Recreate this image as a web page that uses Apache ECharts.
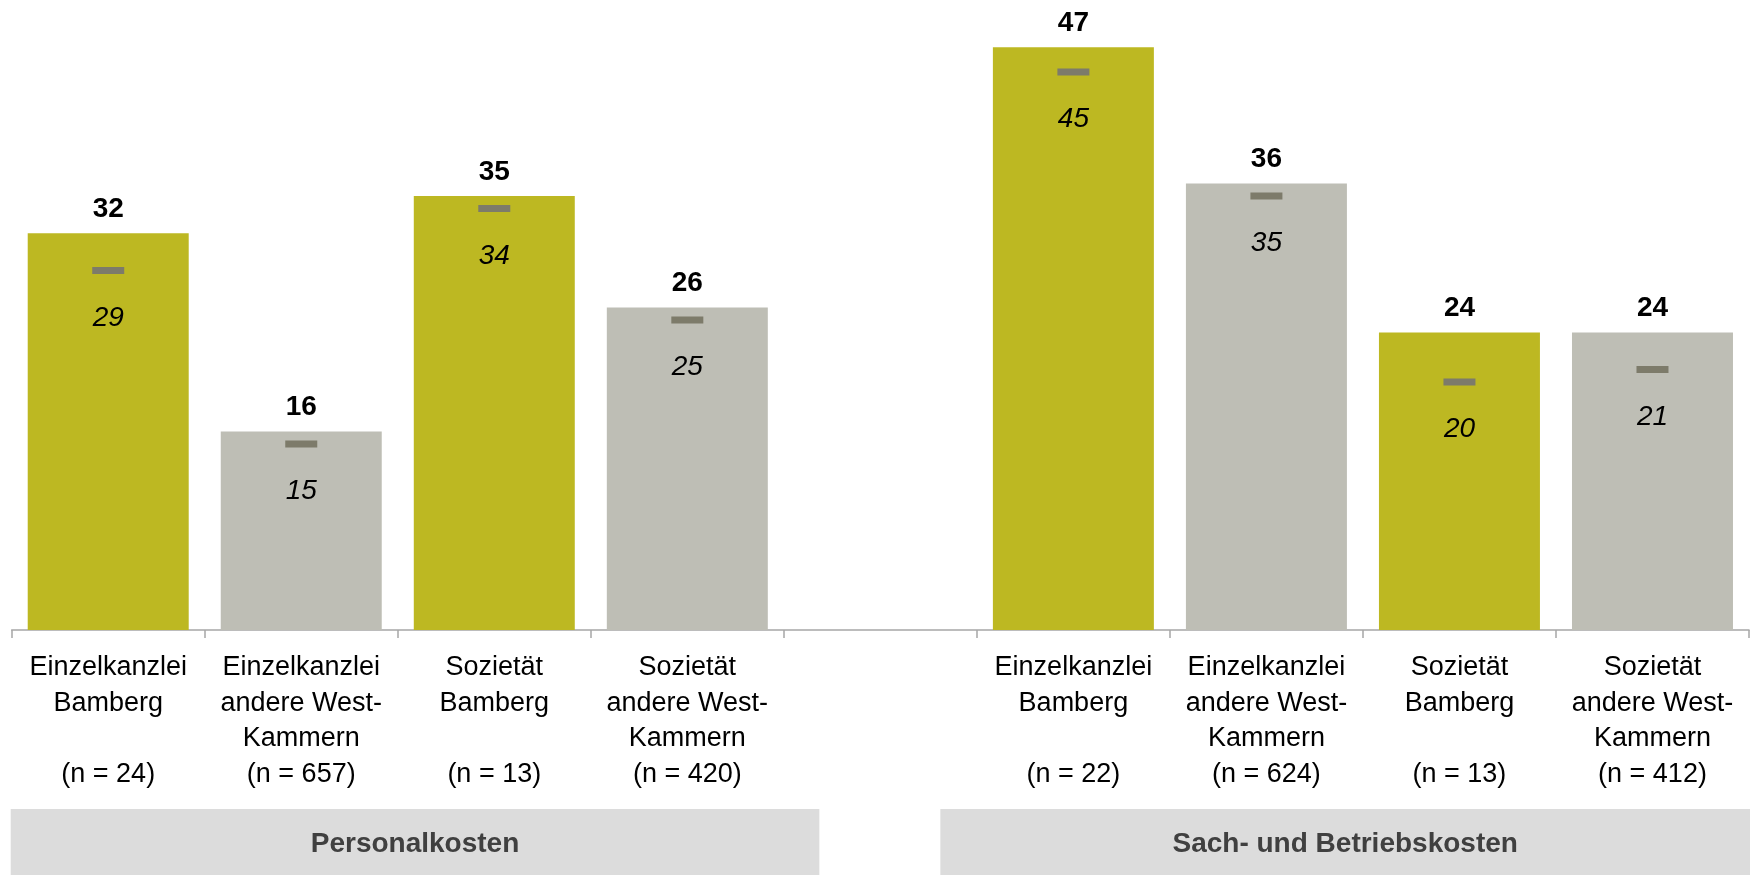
<!DOCTYPE html>
<html>
<head>
<meta charset="utf-8">
<script src="https://cdn.jsdelivr.net/npm/echarts@6/dist/echarts.min.js"></script>
<style>
html,body{margin:0;padding:0;background:#fff;}
#c{width:1754px;height:875px;}
</style>
</head>
<body>
<div id="c"></div>
<script>
const categories = [
  'Einzelkanzlei\nBamberg\n\n(n = 24)',
  'Einzelkanzlei\nandere West-\nKammern\n(n = 657)',
  'Sozietät\nBamberg\n\n(n = 13)',
  'Sozietät\nandere West-\nKammern\n(n = 420)',
  '',
  'Einzelkanzlei\nBamberg\n\n(n = 22)',
  'Einzelkanzlei\nandere West-\nKammern\n(n = 624)',
  'Sozietät\nBamberg\n\n(n = 13)',
  'Sozietät\nandere West-\nKammern\n(n = 412)'
];
const meanValues = [32, 16, 35, 26, '-', 47, 36, 24, 24];
const medianValues = [29, 15, 34, 25, '-', 45, 35, 20, 21];
const isBamberg = [true, false, true, false, false, true, false, true, false];
const groups = ['Personalkosten', 'Sach- und Betriebskosten'];

const OLIVE = '#BDB822';
const GRAY = '#BEBEB5';
const FONT = '"Liberation Sans", Arial, Helvetica, sans-serif';

const chart = echarts.init(document.getElementById('c'));

const barData = meanValues.map((v, i) => ({
  value: v,
  itemStyle: { color: isBamberg[i] ? OLIVE : GRAY }
}));

chart.setOption({
  animation: false,
  backgroundColor: '#ffffff',
  grid: { left: 11.7, right: 5, top: 10, bottom: 245, containLabel: false },
  xAxis: {
    type: 'category',
    data: categories,
    boundaryGap: true,
    axisLine: { show: true, lineStyle: { color: '#A6A6A6', width: 1.5 } },
    axisTick: { show: true, length: 8, lineStyle: { color: '#A6A6A6', width: 1.5 } },
    axisLabel: {
      interval: 0,
      fontFamily: FONT,
      fontSize: 27,
      lineHeight: 35.5,
      color: '#000000',
      margin: 20,
      align: 'center'
    }
  },
  yAxis: {
    type: 'value',
    min: 0,
    max: 50,
    show: false,
    splitLine: { show: false }
  },
  series: [
    {
      type: 'bar',
      data: barData,
      barWidth: '83.4%',
      label: {
        show: true,
        position: 'top',
        distance: 10,
        fontFamily: FONT,
        fontSize: 28,
        fontWeight: 'bold',
        color: '#000000'
      }
    },
    {
      type: 'scatter',
      data: medianValues,
      symbol: 'rect',
      symbolSize: [32, 7],
      itemStyle: { color: '#7D7B6A', opacity: 1 },
      z: 5,
      label: {
        show: true,
        position: 'bottom',
        distance: 30,
        fontFamily: FONT,
        fontSize: 28,
        fontStyle: 'italic',
        color: '#000000'
      }
    }
  ]
});

// Group boxes below the axis, positioned from the category scale
const c0 = chart.convertToPixel({ xAxisIndex: 0 }, 0);
const c8 = chart.convertToPixel({ xAxisIndex: 0 }, categories.length - 1);
const half = (c8 - c0) / (2 * (categories.length - 1));
const cMid = chart.convertToPixel({ xAxisIndex: 0 }, 4);
const axisStart = c0 - half;
const axisEnd = c8 + half;
const boxes = [
  { x0: axisStart - 1, x1: cMid - 61, text: groups[0] },
  { x0: cMid + 60, x1: axisEnd + 1, text: groups[1] }
];
const boxTop = 809, boxH = 66;
const elements = [];
boxes.forEach(b => {
  elements.push({
    type: 'rect',
    shape: { x: b.x0, y: boxTop, width: b.x1 - b.x0, height: boxH },
    style: { fill: '#DCDCDC' },
    silent: true
  });
  elements.push({
    type: 'text',
    x: (b.x0 + b.x1) / 2,
    y: boxTop + boxH / 2 + 2,
    style: {
      text: b.text,
      fontFamily: FONT,
      fontSize: 28,
      fontWeight: 'bold',
      fill: '#404040',
      align: 'center',
      verticalAlign: 'middle'
    },
    silent: true
  });
});
chart.setOption({ graphic: elements });
</script>
</body>
</html>
